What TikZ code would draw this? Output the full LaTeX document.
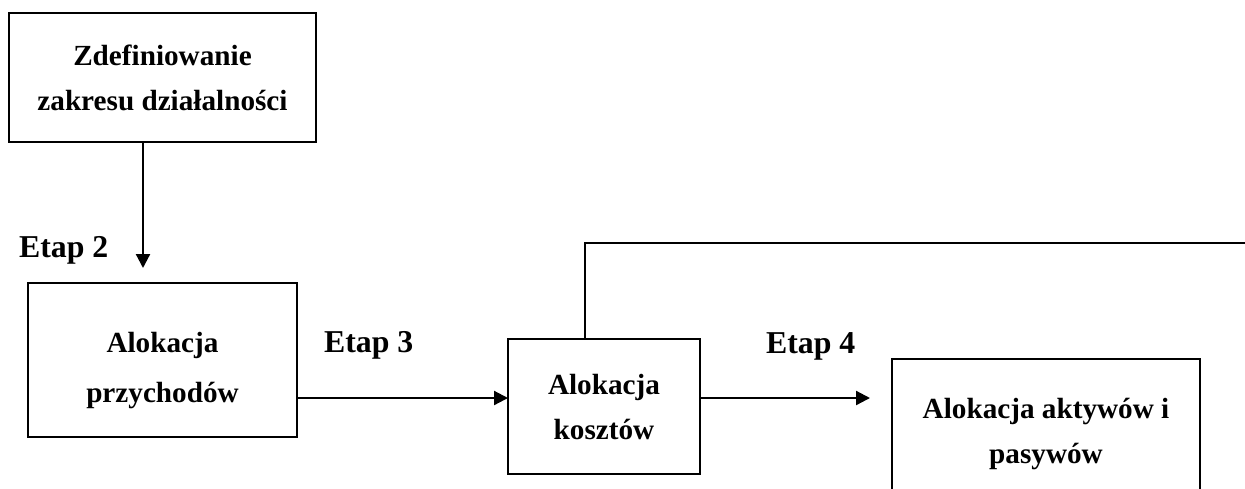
\documentclass[tikz,border=0pt]{standalone}
\usepackage{fontspec}
\setmainfont{Liberation Serif}
\usetikzlibrary{arrows.meta}

\begin{document}
\begin{tikzpicture}[x=0.5pt, y=-0.5pt,
		line width=1.1pt,
		box/.style = {
			draw, rectangle, align=center,
			font=\bfseries\fontsize{14.6}{22.5}\selectfont,
			outer sep=0cm, inner sep=0cm
		},
		etap/.style = {
			anchor=base west, inner sep=0cm,
			font=\bfseries\fontsize{15.9}{18}\selectfont
		},
		arr/.style = {-{Triangle[length=7pt,width=7pt]}}
		]
		\useasboundingbox (0,0) rectangle (1245,488);
		\clip (0,0) rectangle (1245,488);
		\node [box, minimum width=153.5pt, minimum height=64.5pt] (zakres) at (162.5,77.5) {Zdefiniowanie\\zakresu działalności};
		\node [box, font=\bfseries\fontsize{14.6}{25}\selectfont, text height=42pt, text depth=0pt,
			minimum width=134.5pt, minimum height=77pt] (przych) at (162.5,360) {Alokacja\\przychodów};
		\node [box, minimum width=96pt, minimum height=67.5pt] (koszty) at (604,406.5) {Alokacja\\kosztów};
		\node [box, minimum width=154pt, minimum height=75pt] (aktywa) at (1046,434) {Alokacja aktywów i\\pasywów};
		\node [etap] (e2) at (18,257) {Etap 2};
		\node [etap] (e3) at (323,352) {Etap 3};
		\node [etap] (e4) at (765,353) {Etap 4};
		\coordinate (tip2) at (143,268);
		\coordinate (row) at (0,398);
		\coordinate (tip4) at (870,398);
		\coordinate (up) at (585,243);
		\coordinate (edge) at (1250,243);
		\draw[arr] (zakres.south -| tip2) -- (tip2);
		\draw[arr] (przych.east |- row) -- (koszty.west |- row);
		\draw[arr] (koszty.east |- row) -- (tip4);
		\draw (koszty.north -| up) -- (up) -- (edge);
	\end{tikzpicture}
\end{document}
